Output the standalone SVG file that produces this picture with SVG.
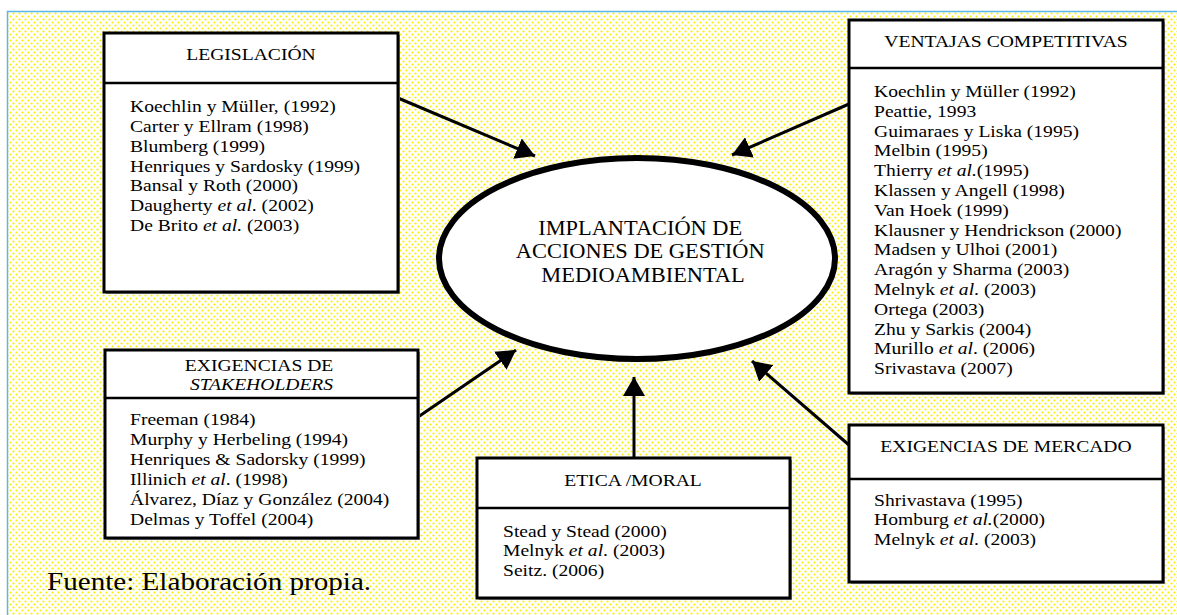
<svg xmlns="http://www.w3.org/2000/svg" width="1177" height="615" viewBox="0 0 1177 615">
  <style>
    .box { fill: #ffffff; stroke: #000000; stroke-width: 3; }
    .rule { stroke: #000000; stroke-width: 2.5; }
    .shadow { fill: #9a9a9a; }
    .t { font-family: "Liberation Serif", "Times New Roman", serif; font-size: 17.5px; fill: #000000; }
    .big { font-size: 20px; }
    .src { font-size: 26px; }
    .it { font-style: italic; }
    .conn { stroke: #000000; stroke-width: 3; fill: none; marker-end: url(#ah); }
  </style>
  <defs>
    <pattern id="dots" width="6" height="6" patternUnits="userSpaceOnUse">
      <circle cx="1.5" cy="1.5" r="1.1" fill="#fbee00"/>
      <circle cx="4.5" cy="4.5" r="1.1" fill="#fbee00"/>
    </pattern>
    <marker id="ah" markerUnits="userSpaceOnUse" markerWidth="20" markerHeight="22" viewBox="0 0 20 22" refX="19" refY="11" orient="auto">
      <path d="M0,0 L19,11 L0,22 z" fill="#000000"/>
    </marker>
  </defs>

  <!-- page background and frame -->
  <rect x="0" y="0" width="1177" height="615" fill="#ffffff"/>
  <rect x="7" y="12" width="1170" height="603" fill="url(#dots)"/>
  <path d="M7.5,615 L7.5,11.5 L1177,11.5" fill="none" stroke="#5bb8e6" stroke-width="1.5"/>

  <!-- connectors -->
  <g id="connectors">
    <line class="conn" x1="398" y1="98" x2="535" y2="156"/>
    <line class="conn" x1="849" y1="104" x2="732" y2="155"/>
    <line class="conn" x1="418" y1="417" x2="516" y2="350"/>
    <line class="conn" x1="634" y1="458" x2="634" y2="377"/>
    <line class="conn" x1="849" y1="445" x2="752" y2="361"/>
  </g>

  <!-- central node -->
  <g id="centro">
    <ellipse cx="637" cy="258.5" rx="198" ry="100.5" fill="#ffffff" stroke="#000000" stroke-width="6"/>
    <g transform="translate(643,0) scale(1.12,1)">
      <text class="t big" text-anchor="middle">
        <tspan x="0" y="235">IMPLANTACIÓN DE</tspan>
        <tspan x="0" y="258.5">ACCIONES DE GESTIÓN</tspan>
        <tspan x="0" y="282">MEDIOAMBIENTAL</tspan>
      </text>
    </g>
  </g>

  <!-- LEGISLACIÓN -->
  <g id="legislacion">
    <rect class="shadow" x="106" y="35" width="294" height="259"/>
    <rect class="box" x="104" y="33" width="294" height="259"/>
    <line class="rule" x1="104" y1="83" x2="398" y2="83"/>
    <g transform="translate(251,0) scale(1.12,1)">
      <text class="t" x="0" y="60" text-anchor="middle">LEGISLACIÓN</text>
    </g>
    <g transform="translate(130,0) scale(1.12,1)">
      <text class="t">
        <tspan x="0" y="112.5">Koechlin y Müller, (1992)</tspan>
        <tspan x="0" y="132.2">Carter y Ellram (1998)</tspan>
        <tspan x="0" y="151.9">Blumberg (1999)</tspan>
        <tspan x="0" y="171.6">Henriques y Sardosky (1999)</tspan>
        <tspan x="0" y="191.3">Bansal y Roth (2000)</tspan>
        <tspan x="0" y="211">Daugherty <tspan class="it">et al</tspan>. (2002)</tspan>
        <tspan x="0" y="230.7">De Brito <tspan class="it">et al.</tspan> (2003)</tspan>
      </text>
    </g>
  </g>

  <!-- VENTAJAS COMPETITIVAS -->
  <g id="ventajas">
    <rect class="shadow" x="851" y="22" width="314" height="373"/>
    <rect class="box" x="849" y="20" width="314" height="373"/>
    <line class="rule" x1="849" y1="68" x2="1163" y2="68"/>
    <g transform="translate(1006,0) scale(1.12,1)">
      <text class="t" x="0" y="47" text-anchor="middle">VENTAJAS COMPETITIVAS</text>
    </g>
    <g transform="translate(874,0) scale(1.12,1)">
      <text class="t">
        <tspan x="0" y="97">Koechlin y Müller (1992)</tspan>
        <tspan x="0" y="116.8">Peattie, 1993</tspan>
        <tspan x="0" y="136.6">Guimaraes y Liska (1995)</tspan>
        <tspan x="0" y="156.4">Melbin (1995)</tspan>
        <tspan x="0" y="176.2">Thierry <tspan class="it">et al.</tspan>(1995)</tspan>
        <tspan x="0" y="196">Klassen y Angell (1998)</tspan>
        <tspan x="0" y="215.8">Van Hoek (1999)</tspan>
        <tspan x="0" y="235.6">Klausner y Hendrickson (2000)</tspan>
        <tspan x="0" y="255.4">Madsen y Ulhoi (2001)</tspan>
        <tspan x="0" y="275.2">Aragón y Sharma (2003)</tspan>
        <tspan x="0" y="295">Melnyk <tspan class="it">et al</tspan>. (2003)</tspan>
        <tspan x="0" y="314.8">Ortega (2003)</tspan>
        <tspan x="0" y="334.6">Zhu y Sarkis (2004)</tspan>
        <tspan x="0" y="354.4">Murillo <tspan class="it">et al</tspan>. (2006)</tspan>
        <tspan x="0" y="374.2">Srivastava (2007)</tspan>
      </text>
    </g>
  </g>

  <!-- EXIGENCIAS DE STAKEHOLDERS -->
  <g id="stakeholders">
    <rect class="shadow" x="107" y="352" width="313" height="188"/>
    <rect class="box" x="105" y="350" width="313" height="188"/>
    <line class="rule" x1="105" y1="398" x2="418" y2="398"/>
    <g transform="translate(261.5,0) scale(1.12,1)">
      <text class="t" text-anchor="middle">
        <tspan x="0" y="371">EXIGENCIAS DE</tspan>
        <tspan x="0" y="390" class="it">STAKEHOLDERS</tspan>
      </text>
    </g>
    <g transform="translate(130,0) scale(1.12,1)">
      <text class="t">
        <tspan x="0" y="425">Freeman (1984)</tspan>
        <tspan x="0" y="445">Murphy y Herbeling (1994)</tspan>
        <tspan x="0" y="465">Henriques &amp; Sadorsky (1999)</tspan>
        <tspan x="0" y="485">Illinich <tspan class="it">et al</tspan>. (1998)</tspan>
        <tspan x="0" y="505">Álvarez, Díaz y González (2004)</tspan>
        <tspan x="0" y="525">Delmas y Toffel (2004)</tspan>
      </text>
    </g>
  </g>

  <!-- ETICA /MORAL -->
  <g id="etica">
    <rect class="shadow" x="479" y="460" width="313" height="140"/>
    <rect class="box" x="477" y="458" width="313" height="140"/>
    <line class="rule" x1="477" y1="508" x2="790" y2="508"/>
    <g transform="translate(633,0) scale(1.12,1)">
      <text class="t" x="0" y="486" text-anchor="middle">ETICA /MORAL</text>
    </g>
    <g transform="translate(503,0) scale(1.12,1)">
      <text class="t">
        <tspan x="0" y="537">Stead y Stead (2000)</tspan>
        <tspan x="0" y="556.5">Melnyk <tspan class="it">et al</tspan>. (2003)</tspan>
        <tspan x="0" y="576">Seitz. (2006)</tspan>
      </text>
    </g>
  </g>

  <!-- EXIGENCIAS DE MERCADO -->
  <g id="mercado">
    <rect class="shadow" x="851" y="427" width="314" height="157"/>
    <rect class="box" x="849" y="425" width="314" height="157"/>
    <line class="rule" x1="849" y1="479" x2="1163" y2="479"/>
    <g transform="translate(1006,0) scale(1.12,1)">
      <text class="t" x="0" y="452" text-anchor="middle">EXIGENCIAS DE MERCADO</text>
    </g>
    <g transform="translate(874,0) scale(1.12,1)">
      <text class="t">
        <tspan x="0" y="506">Shrivastava (1995)</tspan>
        <tspan x="0" y="525.5">Homburg <tspan class="it">et al.</tspan>(2000)</tspan>
        <tspan x="0" y="545">Melnyk <tspan class="it">et al</tspan>. (2003)</tspan>
      </text>
    </g>
  </g>

  <!-- source note -->
  <g transform="translate(47,0) scale(1.12,1)">
    <text class="t src" x="0" y="590">Fuente: Elaboración propia.</text>
  </g>
</svg>
